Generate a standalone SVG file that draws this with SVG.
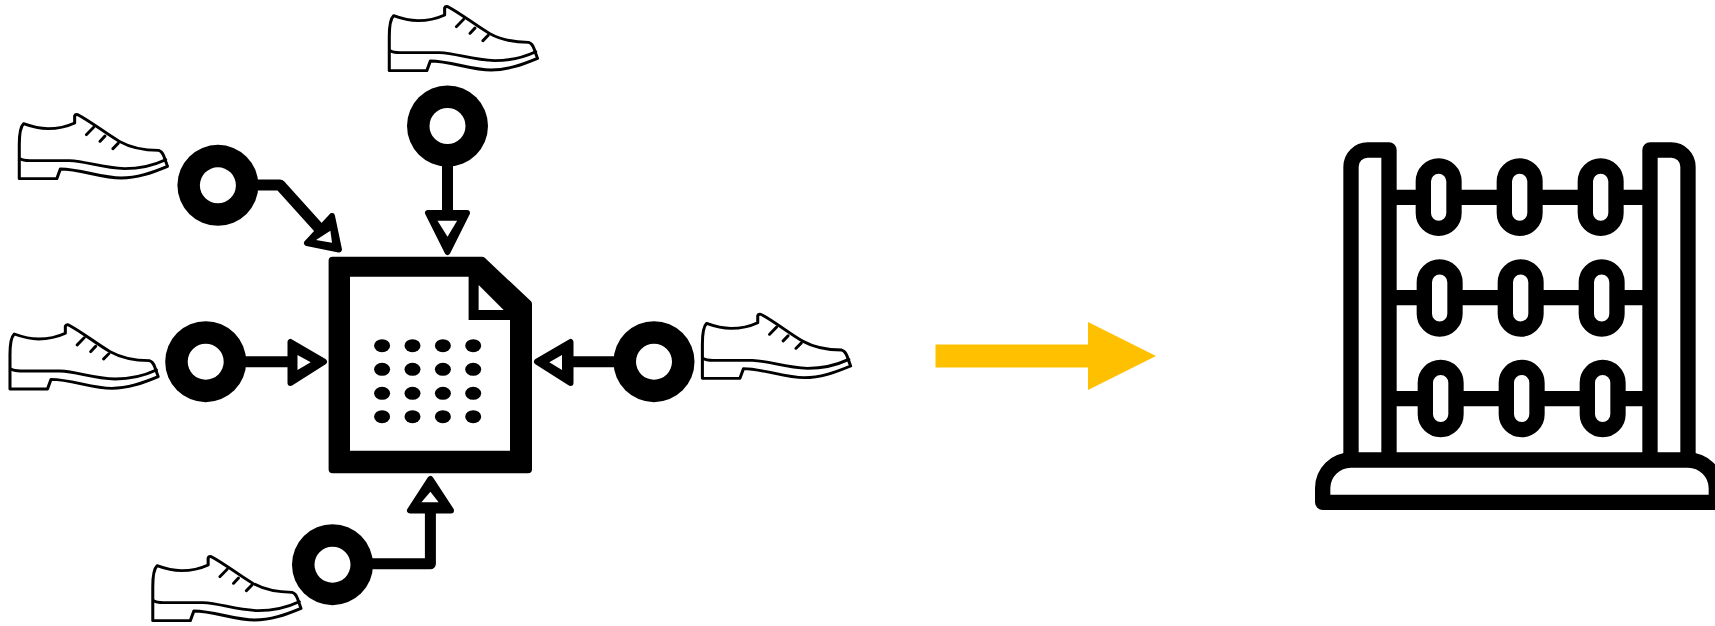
<svg xmlns="http://www.w3.org/2000/svg" width="1715" height="626" viewBox="0 0 1715 626">
<style>
.shoe{fill:#fff;stroke:#000;stroke-width:8.500;stroke-linejoin:round;stroke-linecap:round}
.soft{filter:url(#soft)}
.wire{fill:none;stroke:#000;stroke-width:11;stroke-linejoin:round}
.headO{fill:#000;stroke:#000;stroke-width:6;stroke-linejoin:round}
.headI{fill:#fff}
.white{fill:#fff}
.ab{fill:none;stroke:#000;stroke-width:46;stroke-linejoin:round}
.bead{fill:#fff;stroke:#000;stroke-width:46}
</style>
<defs>
<filter id="soft" x="-5%" y="-5%" width="110%" height="110%"><feGaussianBlur stdDeviation="0.7"/></filter>
<g id="shoeShape" class="shoe">
<path d="M1090,212 L1090,110 C1090,80 1094,55 1102,47 C1130,58 1150,62 1170,62 C1200,62 1225,55 1245,45 L1245,24 Q1247,18 1254,20 C1290,40 1330,75 1370,100 C1400,118 1430,127 1480,127 Q1490,130 1495,145 L1505,175 C1460,195 1420,210 1375,210 C1320,210 1260,183 1205,183 L1195,212 Z"/>
<path fill="none" d="M1092,152 Q1100,158 1120,158 L1230,158 C1280,160 1320,180 1385,182 C1430,182 1470,170 1500,155"/>
<path fill="none" d="M1278,80 L1298,58 M1316,100 L1330,84 M1352,122 L1367,106"/>
</g>
<g id="port">
<ellipse cx="0" cy="0" rx="40.500" ry="40.500"/>
<ellipse class="white" cx="0" cy="0" rx="18" ry="18"/>
</g>
<rect id="bd" class="bead" x="-46" y="-93.500" width="92" height="187" rx="46"/>
<ellipse id="dot" cx="0" cy="0" rx="8" ry="6.500"/>
</defs>
<rect width="1715" height="626" fill="#fff"/>
<g id="connectors" class="soft">
<path class="wire" d="M447.500,160 V215"/>
<path class="wire" d="M250,185 H280 L326,236"/>
<path class="wire" d="M240,361.700 H292"/>
<path class="wire" d="M570,361.700 H620"/>
<path class="wire" d="M365,563.800 H430.400 V510"/>
<polygon class="headO" points="428,213 467,213 447.500,252"/>
<polygon class="headI" points="437.500,220.700 457.100,220.700 447.500,236.700"/>
<polygon class="headO" points="332,216 307,243 339,249.500"/>
<polygon class="headI" points="330.400,230.700 316,240 332,242.700"/>
<polygon class="headO" points="290.500,342 290.500,383 324,361.700"/>
<polygon class="headI" points="297.500,355 297.500,370 310.700,362.300"/>
<polygon class="headO" points="570.500,342 570.500,383 537,361.700"/>
<polygon class="headI" points="562,355 562,370 549.300,362.300"/>
<polygon class="headO" points="430.400,479 410,510.500 451,510.500"/>
<polygon class="headI" points="430.400,491.700 421.400,502.300 438.600,502.300"/>
</g>
<g id="document" class="soft">
<path stroke="#000" stroke-width="8" stroke-linejoin="round" d="M332.600,260.700 H482 L528,304 V469.300 H332.600 Z"/>
<path class="white" d="M350,276.700 H468.600 V320 H510 V450.700 H350 Z"/>
<polygon class="white" points="478.600,285 478.600,310 503.600,310"/>
<g id="dots">
<use href="#dot" x="382.100" y="345.700"/><use href="#dot" x="412.500" y="345.700"/><use href="#dot" x="442.900" y="345.700"/><use href="#dot" x="473.200" y="345.700"/>
<use href="#dot" x="382.100" y="369.300"/><use href="#dot" x="412.500" y="369.300"/><use href="#dot" x="442.900" y="369.300"/><use href="#dot" x="473.200" y="369.300"/>
<use href="#dot" x="382.100" y="393.300"/><use href="#dot" x="412.500" y="393.300"/><use href="#dot" x="442.900" y="393.300"/><use href="#dot" x="473.200" y="393.300"/>
<use href="#dot" x="382.100" y="416.700"/><use href="#dot" x="412.500" y="416.700"/><use href="#dot" x="442.900" y="416.700"/><use href="#dot" x="473.200" y="416.700"/>
</g>
</g>
<g id="port-top" class="soft" transform="translate(447.500 126)"><use href="#port"/></g>
<g id="port-upper-left" class="soft" transform="translate(217.900 185.300)"><use href="#port"/></g>
<g id="port-left" class="soft" transform="translate(205.700 361.700)"><use href="#port"/></g>
<g id="port-bottom" class="soft" transform="translate(332.500 564.700)"><use href="#port"/></g>
<g id="port-right" class="soft" transform="translate(654 361.700)"><use href="#port"/></g>
<g id="shoe-top" transform="translate(0 0) scale(.35714 .33333)"><use href="#shoeShape"/></g>
<g id="shoe-upper-left" transform="translate(-370 108) scale(.35714 .33333)"><use href="#shoeShape"/></g>
<g id="shoe-left" transform="translate(-379.300 318.300) scale(.35714 .33333)"><use href="#shoeShape"/></g>
<g id="shoe-bottom" transform="translate(-236.500 550) scale(.35714 .33333)"><use href="#shoeShape"/></g>
<g id="shoe-right" transform="translate(313.100 307.700) scale(.35714 .33333)"><use href="#shoeShape"/></g>
<g id="yellow-arrow"><polygon fill="#FFC000" points="935.500,344.500 1088,344.500 1088,322 1156,356 1088,390 1088,367.500 935.500,367.500"/></g>
<g id="abacus" transform="translate(1300 130) scale(.33333)">
<path class="ab" d="M267,202 H1050 M267,503 H1050 M267,806 H1050"/>
<path class="ab" d="M153,990 V110 A50,50 0 0 1 203,60 H267 V990"/>
<path class="ab" d="M1164,990 V110 A50,50 0 0 0 1114,60 H1050 V990"/>
<path class="ab" d="M68,1117 V1075 A85,85 0 0 1 153,990 H1164 A85,85 0 0 1 1249,1075 V1117 Z"/>
<use href="#bd" x="416" y="201.500"/><use href="#bd" x="659" y="201.500"/><use href="#bd" x="902" y="201.500"/>
<use href="#bd" x="419" y="504"/><use href="#bd" x="662" y="504"/><use href="#bd" x="905" y="504"/>
<use href="#bd" x="422" y="805.500"/><use href="#bd" x="665" y="805.500"/><use href="#bd" x="908" y="805.500"/>
</g>
</svg>
